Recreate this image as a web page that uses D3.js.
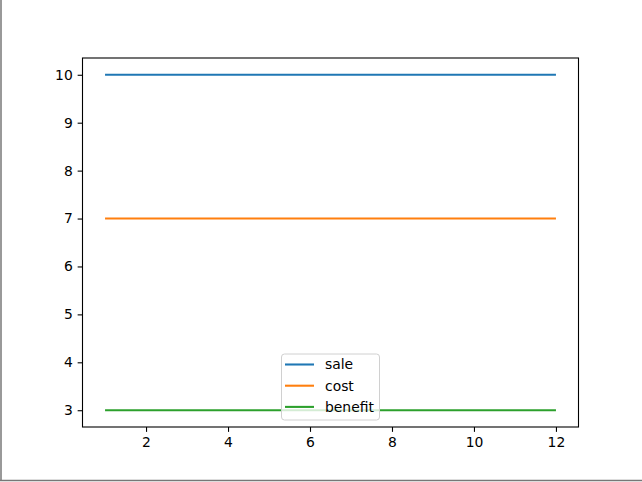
<!DOCTYPE html>
<html>
<head>
<meta charset="utf-8">
<script src="https://cdn.jsdelivr.net/npm/d3@7"></script>
<style>
html, body { margin: 0; padding: 0; background: #fff; }
svg { display: block; }
text { font-family: "DejaVu Sans", sans-serif; }
</style>
</head>
<body>
<script>
const months = [1, 2, 3, 4, 5, 6, 7, 8, 9, 10, 11, 12];
const sale = [10, 10, 10, 10, 10, 10, 10, 10, 10, 10, 10, 10];
const cost = [7, 7, 7, 7, 7, 7, 7, 7, 7, 7, 7, 7];
const benefit = [3, 3, 3, 3, 3, 3, 3, 3, 3, 3, 3, 3];
const seriesNames = ["sale", "cost", "benefit"];
const seriesColors = ["#1f77b4", "#ff7f0e", "#2ca02c"];
const xTicks = [2, 4, 6, 8, 10, 12];
const yTicks = [3, 4, 5, 6, 7, 8, 9, 10];

const W = 642, H = 482;
const svg = d3.select("body").append("svg").attr("width", W).attr("height", H);
svg.append("rect").attr("width", W).attr("height", H).attr("fill", "#fff");

// window frame lines (left and bottom)
svg.append("line").attr("x1", 1).attr("x2", 1).attr("y1", 0).attr("y2", 481)
  .attr("stroke", "#777").attr("stroke-width", 1.5);
svg.append("line").attr("x1", 0).attr("x2", W).attr("y1", 480.5).attr("y2", 480.5)
  .attr("stroke", "#777").attr("stroke-width", 1.5);

const L = 82.5, R = 578.5, T = 58, B = 427;
const series = [sale, cost, benefit];
const allY = series.flat();
const xmin = d3.min(months), xmax = d3.max(months);
const ymin = d3.min(allY), ymax = d3.max(allY);
const xm = (xmax - xmin) * 0.05, ym = (ymax - ymin) * 0.05;
const x = d3.scaleLinear().domain([xmin - xm, xmax + xm]).range([L, R]);
const y = d3.scaleLinear().domain([ymin - ym, ymax + ym]).range([B, T]);

const fs = 13.9;

// lines
const line = d3.line().x((d, i) => x(months[i])).y(d => y(d));
series.forEach((s, k) => {
  svg.append("path").datum(s).attr("d", line).attr("fill", "none")
    .attr("stroke", seriesColors[k]).attr("stroke-width", 2.08)
    .attr("stroke-linecap", "butt");
});

// axes
const xAxis = d3.axisBottom(x).tickValues(xTicks).tickSize(4.86).tickPadding(4.86).tickFormat(d3.format("d"));
const yAxis = d3.axisLeft(y).tickValues(yTicks).tickSize(4.86).tickPadding(4.86).tickFormat(d3.format("d"));
const gx = svg.append("g").attr("transform", `translate(0,${B})`).call(xAxis);
const gy = svg.append("g").attr("transform", `translate(${L},0)`).call(yAxis);
[gx, gy].forEach(g => {
  g.select(".domain").remove();
  g.selectAll(".tick line").attr("stroke", "#000").attr("stroke-width", 1.1);
  g.selectAll(".tick text").attr("fill", "#000").style("font-size", fs + "px")
    .style("font-family", "DejaVu Sans, sans-serif");
});

// frame
svg.append("rect").attr("x", L).attr("y", T).attr("width", R - L).attr("height", B - T)
  .attr("fill", "none").attr("stroke", "#000").attr("stroke-width", 1.1);

// legend (lower center)
const rowGap = 21.2;
const legW = 98, legH = 66;
const legX = (L + R) / 2 - legW / 2;
const legY = B - 7 - legH;
const lg = svg.append("g");
lg.append("rect").attr("x", legX).attr("y", legY).attr("width", legW).attr("height", legH)
  .attr("rx", 3).attr("ry", 3)
  .attr("fill", "#fff").attr("fill-opacity", 0.8)
  .attr("stroke", "#d0d0d0").attr("stroke-width", 1);
seriesNames.forEach((name, k) => {
  const cy = legY + 10.5 + k * rowGap;
  lg.append("line").attr("x1", legX + 3.5).attr("x2", legX + 32.5)
    .attr("y1", cy).attr("y2", cy)
    .attr("stroke", seriesColors[k]).attr("stroke-width", 2.08);
  lg.append("text").attr("x", legX + 43.5).attr("y", cy).attr("dy", "0.35em")
    .style("font-size", fs + "px").attr("fill", "#000").text(name);
});
</script>
</body>
</html>
